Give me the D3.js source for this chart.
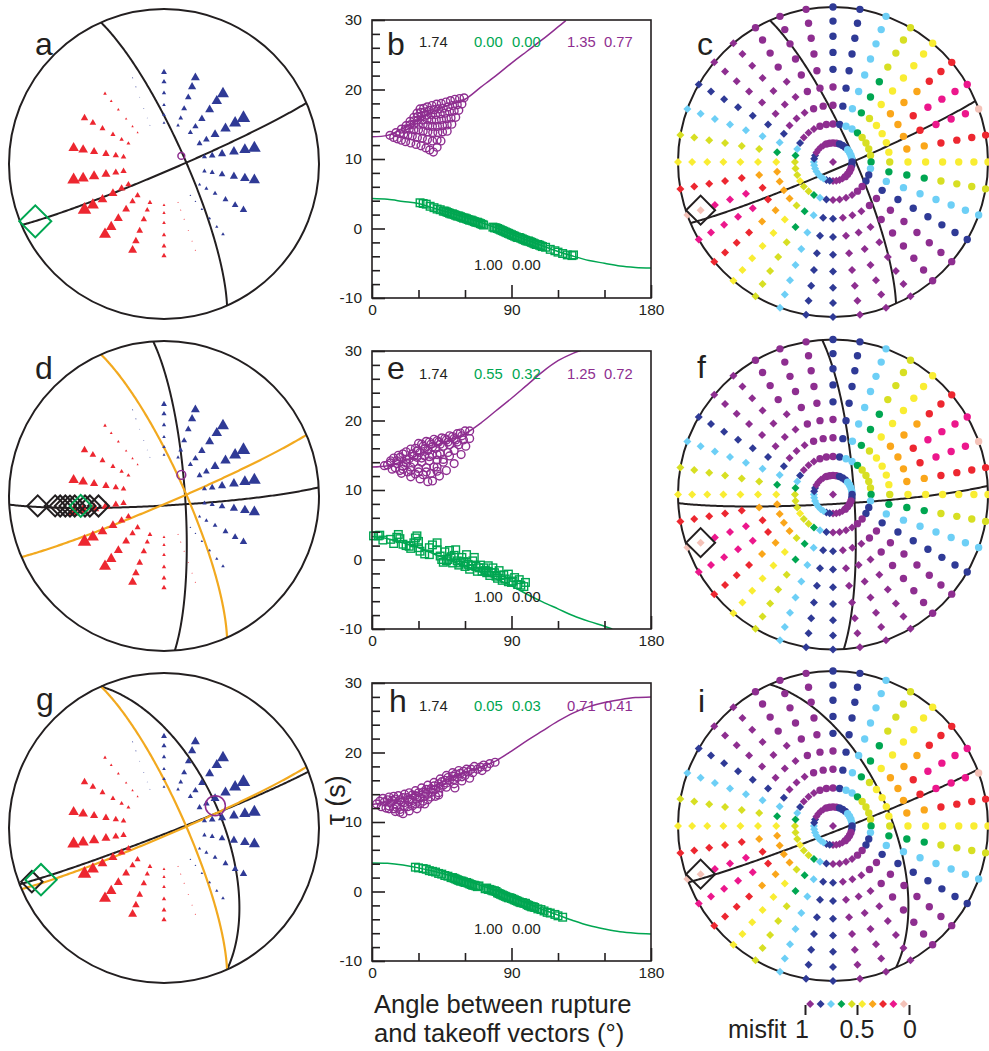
<!DOCTYPE html>
<html>
<head>
<meta charset="utf-8">
<script src="https://cdn.jsdelivr.net/npm/d3@7"></script>
<style>
  body { margin: 0; background: #fff; }
  text { font-family: "Liberation Sans", Arial, sans-serif; fill: #231f20; }
</style>
</head>
<body>
<script>
// station takeoff angles and azimuths (same for panels a, d, g)
const stationTakeoff = [49.5, 44, 37.8, 31.2, 25.8, 21.6];
const stationAz = [0, 20, 40, 60, 80, 100, 120, 140, 160, 180, 200, 220, 240, 260, 280, 300, 320, 340];
// signed amplitude per azimuth, outer ring first. + is blue, - is red
const stationAmp = [
  [14, 12, 10, 8, 8, 6],
  [22, 20, 16, 14, 11, 8],
  [30, 26, 22, 18, 15, 12],
  [34, 30, 26, 22, 16, 14],
  [32, 28, 24, 20, 16, 12],
  [28, 24, 20, 16, 12, 10],
  [18, 16, 14, 11, 9, 7],
  [8, 7, 6, 5, 3, 3],
  [-2, -2, -2, -2, -2, -2],
  [-12, -11, -10, -8, -7, -6],
  [-22, -18, -16, -15, -12, -11],
  [-30, -26, -22, -19, -15, -14],
  [-34, -30, -24, -22, -18, -15],
  [-32, -28, -26, -22, -17, -15],
  [-26, -24, -20, -18, -15, -13],
  [-18, -16, -14, -12, -10, -9],
  [-8, -6, -6, -5, -5, -4],
  [2, 2, 1, 1, 1, 1]
];

// fault planes as [dip direction, dip]
const planesTrue = [[66, 79], [156.8, 86]];
const planesD = [[86, 79], [176.8, 85]];
const planesG = [[66, 60], [158.7, 87]];

// rupture vectors as [azimuth, takeoff]
const ruptureD = [[265.5, 70.6], [264.8, 59.8], [264.5, 56.8], [264.2, 53.8], [263.9, 51.1], [263.6, 48.4], [262.8, 42.6], [262.3, 39.9], [261.3, 35.2]];
const ruptureGreenA = [246, 80];
const ruptureGreenD = [263.2, 45];
const ruptureGreenG = [247.2, 75];
const ruptureBlackG = [247.9, 81.2];
const purpleA = [65, 10];
const purpleD = [39.5, 14.3];
const purpleG = [66.5, 29.6];
const bestRupture = [250, 80];

// misfit class per grid node (0 = misfit 1 ... 9 = misfit 0), one string per ring, azimuth 0 to 350
const gridTakeoff = [90, 80, 70, 60, 50, 40, 30, 20, 10];
const gridClasses = [
  "112457897542100000112457897542100000",
  "112457887542100000112457897542100000",
  "112457887542100000112457887542100000",
  "112456887542100000112457887542100000",
  "112356776532100000112456887542100000",
  "012356666532100000112356776542100000",
  "012345555432100000112346666532100000",
  "012234444321100000012344544432100000",
  "001112222110000000011222222211000000"
];
const misfitColors = ["#8e2e90", "#2f3a96", "#6dcff6", "#00a651", "#d7df23", "#f9ed32", "#faa61a", "#ed2730", "#ec178c", "#f4c2b8"];

// tau curves, [angle, tau]
const curvePurpleB = [[0, 13.2], [10, 13.4], [20, 14.4], [30, 15.7], [40, 16.9], [50, 17.8], [60, 18.6], [70, 20.3], [80, 22], [90, 23.8], [100, 25.5], [110, 27.2], [120, 29], [125, 29.9]];
const curveGreenB = [[0, 4.3], [10, 4.2], [20, 3.9], [30, 3.6], [40, 2.9], [50, 2.3], [60, 1.6], [70, 0.9], [80, 0.1], [90, -0.8], [100, -1.7], [110, -2.5], [120, -3.3], [130, -4], [140, -4.6], [150, -5], [160, -5.4], [170, -5.6], [180, -5.7]];
const curvePurpleE = [[0, 13.3], [10, 13.5], [20, 14.1], [30, 15.1], [40, 16.2], [50, 17.2], [60, 18.1], [70, 19.6], [80, 21.4], [90, 23.2], [100, 25.1], [110, 27], [120, 28.6], [130, 29.7], [135, 30.1]];
const curveGreenE = [[0, 3.3], [10, 3], [20, 2.4], [30, 1.7], [40, 0.8], [50, -0.1], [60, -0.9], [70, -1.8], [80, -2.8], [90, -3.8], [100, -5], [110, -6.1], [120, -7.1], [130, -8.1], [140, -8.9], [150, -9.6], [155, -10]];
const curvePurpleH = [[0, 12.5], [10, 12.9], [20, 13.5], [30, 14.3], [40, 15.2], [50, 16.2], [60, 17.1], [70, 17.9], [80, 18.8], [90, 20.2], [100, 21.7], [110, 23.1], [120, 24.5], [130, 25.7], [140, 26.6], [150, 27.2], [160, 27.6], [170, 27.9], [180, 28]];
const curveGreenH = [[0, 4.1], [10, 4.05], [20, 3.8], [30, 3.4], [40, 2.9], [50, 2.3], [60, 1.6], [70, 0.9], [80, 0.1], [90, -0.8], [100, -1.7], [110, -2.6], [120, -3.4], [130, -4.2], [140, -4.9], [150, -5.4], [160, -5.8], [170, -6], [180, -6.1]];

// tau measurements, [angle, tau]
const circlesB = [
  [59.4, 18.8], [58, 17.9], [56, 17], [54, 16], [51.5, 15], [48.5, 14], [44.5, 12.6], [42, 11.7], [39.6, 11],
  [56.5, 18.7], [55, 17.8], [53, 16.9], [51, 15.9], [48.5, 14.9], [45.5, 13.9], [42, 12.7], [37.2, 11.3],
  [53.5, 18.6], [52, 17.7], [50, 16.8], [48, 15.8], [45.5, 14.8], [42.5, 13.8], [39, 12.6], [34.8, 11.6],
  [50.6, 18.4], [49, 17.5], [47, 16.6], [44.8, 15.7], [42.2, 14.7], [39.2, 13.8], [35.8, 12.8], [31.6, 11.9],
  [47.7, 18.2], [46, 17.3], [44, 16.5], [41.5, 15.6], [39, 14.7], [36, 13.9], [32.5, 13], [28.4, 12.1],
  [44.7, 18], [43, 17.2], [41, 16.4], [38.5, 15.6], [36, 14.8], [33, 14], [29.3, 13.1], [25, 12.3],
  [41.7, 17.9], [40, 17.1], [38, 16.4], [35.5, 15.7], [33, 15], [30, 14.2], [26, 13.3], [21.7, 12.5],
  [38.7, 17.7], [37, 17], [35, 16.3], [32.5, 15.6], [30, 15], [27, 14.2], [23.2, 13.4], [19, 12.7],
  [35.7, 17.5], [34, 16.8], [32, 16.2], [29.5, 15.6], [27, 15], [24, 14.3], [20.5, 13.6], [16.3, 12.9],
  [33.3, 17.3], [31.5, 16.7], [29.5, 16.1], [27, 15.5], [24.5, 14.9], [21.5, 14.3], [18, 13.7], [14, 13.1],
  [31, 17.2], [29, 16.6], [27, 16], [24.5, 15.4], [22, 14.8], [19, 14.3], [15.5, 13.8], [11.6, 13.4]
];
const squaresB = [
  [31, 3.7], [33, 3.6], [35, 3.5], [37.5, 3.2], [40, 3], [42, 2.8], [44, 2.7], [46, 2.5], [48, 2.4], [50, 2.2], [52, 2.1], [54, 1.9],
  [56, 1.8], [58, 1.6], [60, 1.5], [62, 1.3], [64, 1.2], [66, 1], [68, 0.9], [70, 0.7], [72, 0.5], [78, 0.2], [80, 0.1], [82, -0.1],
  [84, -0.3], [86, -0.5], [88, -0.7], [90, -0.9], [92, -1.1], [94, -1.3], [96, -1.4], [98, -1.6], [100, -1.8], [102, -1.9], [104, -2.1],
  [106, -2.3], [108, -2.4], [110, -2.6], [112, -2.7], [115, -3], [118, -3.2], [120, -3.4], [123, -3.6], [126, -3.8], [129, -3.9], [130, -3.8],
  [47, 2.5], [49, 2.3], [51, 2.1], [53, 2], [55, 1.8], [57, 1.7], [59, 1.5], [61, 1.4], [63, 1.2], [65, 1.1], [67, 0.9], [69, 0.8], [71, 0.6],
  [79, 0.1], [81, 0], [83, -0.2], [85, -0.4], [87, -0.6], [89, -0.8], [91, -1], [93, -1.2], [95, -1.3], [97, -1.5], [99, -1.7], [101, -1.8], [103, -2], [105, -2.2], [107, -2.3], [109, -2.5]
];
const circlesE = [
  [30, 16.7], [35, 17], [40, 17.3], [45, 17.5], [50, 17.8], [55, 18.1], [60, 18.5], [63, 18.5],
  [63, 17.4], [60.5, 16.3], [57.5, 15.1], [53, 13.8], [48, 12.8], [43.5, 12], [39, 11.3],
  [28, 16], [33, 16.3], [38, 16.6], [43, 16.9], [48, 17.2], [53, 17.4], [58, 17.8],
  [26, 15.2], [31, 15.4], [36, 15.7], [41, 16], [46, 16.3], [50, 16.5], [55, 16.9], [59, 17.2],
  [20, 15.2], [24, 14.5], [29, 14.7], [34, 14.9], [39, 15], [44, 15.2], [49, 15.4],
  [14, 14.6], [18, 14.7], [22, 13.9], [27, 14], [32, 14], [37, 14.2], [42, 14.3], [46, 14.4],
  [8, 13.5], [12, 13.9], [16, 13.8], [20, 13.4], [25, 13.3], [30, 13.1], [35, 13.2], [40, 13.3],
  [13, 13], [18, 12.8], [23, 12.6], [28, 12.3], [33, 12.2], [38, 12.4], [42, 12.7],
  [19, 12.4], [25, 11.9], [31, 11.6], [36, 11.2],
  [32, 16.6], [37, 16.9], [42, 17.1], [47, 17.4], [52, 17.7], [57, 18.2], [29, 15.6], [34, 15.9], [39, 16.2], [44, 16.6], [49, 16.9], [54, 17.2],
  [12, 14.2], [17, 15], [22, 15.5], [25, 15.9], [27, 14.9], [32, 14.6], [37, 14.8], [42, 15.1], [22, 14.4], [16, 14.2], [10, 13.6],
  [15, 13.2], [20, 13], [25, 12.8], [30, 12.6], [35, 12.6], [56, 16.5], [53, 15.7], [50, 14.9], [46, 14], [42, 13.3]
];
const squaresE = [
  [1, 3.4], [4, 3.4], [5, 3.5], [7, 2.8], [12, 2.9], [14, 2.3], [16, 3.2], [17, 3.6], [18, 3], [20, 2.2], [22, 2], [24, 1.9], [25, 1.6],
  [27, 2.4], [28, 3.1], [29, 3.4], [30, 2.6], [30, 1.7], [31, 1.2], [34, 0.8], [37, 0.7], [37, 1.7], [39, 2.1], [42, 2.4], [42, 1.4],
  [44, 0.5], [45, 0], [47, 1.1], [48, -0.2], [50, 1.3], [52, -0.5], [53, 0.6], [54, 1.4], [56, -0.8], [58, 0.3], [60, -1], [61, 0.7],
  [63, -1.4], [65, -0.2], [66, 0.3], [68, -1.7], [70, -0.8], [71, -1.7], [74, -1.9], [75, -0.9], [76, -2.3], [78, -1.2], [80, -2.4],
  [81, -2.7], [82, -1.6], [84, -3], [85, -2.2], [88, -3.2], [88, -2.1], [90, -3.3], [92, -2.6], [94, -3.6], [95, -2.9], [98, -3.9], [99, -3.3], [96, -3.7],
  [46, -0.4], [49, 0], [51, 0.4], [55, -0.2], [57, -0.5], [59, -0.3], [62, -0.7], [64, -0.9], [67, -1], [69, -1.2], [72, -1.2], [73, -1.6],
  [75, -1.7], [77, -1.9], [79, -1.9], [83, -2.3], [86, -2.8], [91, -3.1]
];
const circlesH = [
  [3, 12.6], [7, 13.4], [11, 13.6], [14, 13.7], [17, 13.8], [21, 14], [24, 14.2], [28, 14.5], [32, 14.9], [36, 15.3], [40, 15.7], [44, 16.2],
  [48, 16.7], [52, 17.1], [56, 17.4], [61, 17.6], [66, 18], [72, 18.2], [76, 18.4], [79.4, 18.6],
  [8, 12.9], [13, 13.1], [18, 13.2], [23, 13.5], [28, 13.8], [33, 14.3], [38, 14.8], [43, 15.5], [47, 16], [52, 16.6], [57, 17], [62, 17.2], [68, 17.6], [74, 17.9],
  [6, 12.2], [11, 12.3], [16, 12.5], [21, 12.8], [26, 13.1], [31, 13.5], [36, 14], [41, 14.7], [46, 15.3], [50, 16], [55, 16.4], [60, 16.7], [65, 17.1], [71, 17.4],
  [9, 12], [14, 11.9], [18, 11.8], [23, 12.2], [28, 12.6], [33, 13], [38, 13.6], [43, 14.2], [48, 15], [53, 15.5], [58, 15.9], [63, 16.3],
  [15, 11.5], [18, 11.4], [20, 11.2], [24, 11.6], [29, 11.9], [34, 12.6], [43, 13.9], [53.5, 14.9],
  [5, 13], [10, 13.2], [15, 13.3], [20, 13.5], [26, 13.9], [30, 14.2], [35, 14.7], [40, 15.2], [45, 15.8], [49, 16.4], [54, 16.9], [59, 17.3], [64, 17.6], [70, 17.9],
  [12, 12.7], [19, 12.9], [24, 12.9], [29, 13.3], [34, 13.7], [39, 14.3], [44, 14.9], [48, 15.6], [53, 16.1], [58, 16.5],
  [11, 11.9], [16, 12.1], [21, 12.2], [26, 12.3], [31, 12.6], [36, 13.2], [41, 13.7]
];
const squaresH = [
  [28, 3.5], [30, 3.4], [33, 3.3], [35, 3.2], [37, 3], [39, 2.9], [41, 2.8], [43, 2.6], [45, 2.5], [47, 2.3], [49, 2.2], [51, 2], [53, 1.9],
  [55, 1.7], [57, 1.5], [59, 1.4], [61, 1.3], [63, 1.1], [65, 0.9], [67, 0.8], [69, 0.8], [73, 0.4], [75, 0.3], [77, 0.2], [79, 0.1], [81, -0.2],
  [83, -0.4], [85, -0.6], [87, -0.8], [89, -0.9], [91, -1.1], [93, -1.3], [95, -1.5], [97, -1.6], [99, -1.7], [101, -2], [103, -2.2], [105, -2.3],
  [107, -2.5], [109, -2.6], [111, -2.8], [113, -3], [115, -3.1], [118, -3.3], [120, -3.5], [123, -3.7],
  [52, 2], [54, 1.8], [56, 1.6], [58, 1.5], [60, 1.3], [62, 1.2], [64, 1], [66, 0.9], [68, 0.7], [74, 0.5], [76, 0.3], [78, 0.1], [80, 0],
  [82, -0.3], [84, -0.5], [86, -0.7], [88, -0.9], [90, -1], [92, -1.2], [94, -1.4], [96, -1.6], [98, -1.7], [100, -1.9], [102, -2.1], [104, -2.2]
];

// numbers printed inside the middle panels
const labelsB = ["0.00", "0.00", "1.35", "0.77"];
const labelsE = ["0.55", "0.32", "1.25", "0.72"];
const labelsH = ["0.05", "0.03", "0.71", "0.41"];

const xTicks = [0, 90, 180];
const xMinorTicks = [30, 60, 120, 150];
const yTicks = [-10, 0, 10, 20, 30];
const yMinorTicks = [-8, -6, -4, -2, 2, 4, 6, 8, 12, 14, 16, 18, 22, 24, 26, 28];
const legendTicks = [1, 0.5, 0];
const legendValues = [0.95, 0.85, 0.75, 0.65, 0.55, 0.45, 0.35, 0.25, 0.15, 0.05];

const width = 989;
const height = 1051;
const radius = 155;
const black = "#231f20";
const green = "#00a651";
const purple = "#8e2e90";
const orange = "#f2a91f";

const svg = d3.select("body").append("svg")
  .attr("width", width)
  .attr("height", height)
  .style("display", "block");

function square(halfDiagonal) {
  return d3.symbol().type(d3.symbolSquare).size(2 * halfDiagonal * halfDiagonal)();
}

// lower hemisphere equal area net, azimuth clockwise from north
function makeNet(cx, cy) {
  const projection = d3.geoAzimuthalEqualArea()
    .rotate([0, 90])
    .scale(radius / Math.SQRT2)
    .translate([cx, cy])
    .clipAngle(90)
    .precision(0.2);
  return {
    cx: cx,
    cy: cy,
    at: d => projection([d[0], d[1] - 90]),
    path: d3.geoPath(projection)
  };
}

function drawCircle(net) {
  svg.append("circle")
    .attr("cx", net.cx).attr("cy", net.cy).attr("r", radius)
    .attr("fill", "none").attr("stroke", black).attr("stroke-width", 2);
}

function drawPlanes(net, planes, color, w) {
  planes.forEach(p => {
    const circle = d3.geoCircle().center([p[0] + 180, p[1] - 90]).radius(90).precision(1)();
    svg.append("path")
      .attr("d", net.path({ type: "LineString", coordinates: circle.coordinates[0] }))
      .attr("fill", "none").attr("stroke", color).attr("stroke-width", w);
  });
}

function drawStations(net) {
  const size = d3.scaleLinear().domain([0, 34]).range([0.6, 13.5]);
  stationAz.forEach((az, i) => {
    stationTakeoff.forEach((t, j) => {
      const amp = stationAmp[i][j];
      const pt = net.at([az, t]);
      const w = size(Math.abs(amp));
      svg.append("path")
        .attr("d", d3.symbol().type(d3.symbolTriangle).size(0.433 * w * w)())
        .attr("transform", "translate(" + pt[0] + "," + pt[1] + ")")
        .attr("fill", amp > 0 ? "#2f3a96" : "#ed2730");
    });
  });
}

function drawDiamond(net, d, half, color) {
  const pt = net.at(d);
  svg.append("path")
    .attr("d", square(half))
    .attr("transform", "translate(" + pt[0] + "," + pt[1] + ") rotate(45)")
    .attr("fill", "none").attr("stroke", color).attr("stroke-width", 2);
}

function drawPurple(net, d, r) {
  const pt = net.at(d);
  svg.append("circle")
    .attr("cx", pt[0]).attr("cy", pt[1]).attr("r", r)
    .attr("fill", "none").attr("stroke", purple).attr("stroke-width", 1.5);
}

// circles on one side of the auxiliary plane, diamonds on the other
function isCircleNode(az, takeoff) {
  if (az <= 140 || az >= 340) return true;
  return az === 330 && takeoff >= 60;
}

function drawGrid(net) {
  gridTakeoff.forEach((t, i) => {
    d3.range(36).forEach(k => {
      const az = k * 10;
      const pt = net.at([az, t]);
      const color = misfitColors[+gridClasses[i][k]];
      if (isCircleNode(az, t)) {
        svg.append("circle").attr("cx", pt[0]).attr("cy", pt[1]).attr("r", 3.7).attr("fill", color);
      } else {
        svg.append("path").attr("d", square(4))
          .attr("transform", "translate(" + pt[0] + "," + pt[1] + ") rotate(45)")
          .attr("fill", color);
      }
    });
  });
  svg.append("path").attr("d", square(4))
    .attr("transform", "translate(" + net.cx + "," + net.cy + ") rotate(45)")
    .attr("fill", misfitColors[0]);
}

function drawTauPanel(top, curves, squares, circles, labels, letter, letterX, letterY, labelY, bottomLabelY) {
  const bottom = top + 278;
  const x = d3.scaleLinear().domain([0, 180]).range([372, 651]);
  const y = d3.scaleLinear().domain([-10, 30]).range([bottom, top]);
  const g = svg.append("g");

  const clipId = "clip" + letter;
  g.append("clipPath").attr("id", clipId).append("rect")
    .attr("x", 372).attr("y", top).attr("width", 279).attr("height", 278);

  const line = d3.line().x(d => x(d[0])).y(d => y(d[1])).curve(d3.curveCatmullRom);
  g.append("path").datum(curves[0]).attr("d", line)
    .attr("clip-path", "url(#" + clipId + ")")
    .attr("fill", "none").attr("stroke", purple).attr("stroke-width", 1.5);
  g.append("path").datum(curves[1]).attr("d", line)
    .attr("clip-path", "url(#" + clipId + ")")
    .attr("fill", "none").attr("stroke", green).attr("stroke-width", 1.5);

  g.selectAll(".sq").data(squares).enter().append("rect")
    .attr("x", d => x(d[0]) - 3.8).attr("y", d => y(d[1]) - 3.8)
    .attr("width", 7.6).attr("height", 7.6)
    .attr("fill", "none").attr("stroke", green).attr("stroke-width", 1.4);
  g.selectAll(".ci").data(circles).enter().append("circle")
    .attr("cx", d => x(d[0])).attr("cy", d => y(d[1])).attr("r", 3.9)
    .attr("fill", "none").attr("stroke", purple).attr("stroke-width", 1.4);

  g.append("rect").attr("x", 372).attr("y", top).attr("width", 279).attr("height", 278)
    .attr("fill", "none").attr("stroke", black).attr("stroke-width", 1.6);

  // ticks point inward
  const xAxis = g.append("g").attr("transform", "translate(0," + bottom + ")")
    .call(d3.axisBottom(x).tickValues(xTicks).tickSize(-13).tickPadding(6).tickFormat(d3.format("d")));
  const xMinor = g.append("g").attr("transform", "translate(0," + bottom + ")")
    .call(d3.axisBottom(x).tickValues(xMinorTicks).tickSize(-8).tickFormat(""));
  const yAxis = g.append("g").attr("transform", "translate(372,0)")
    .call(d3.axisLeft(y).tickValues(yTicks).tickSize(-13).tickPadding(10).tickFormat(d => d < 0 ? "-" + Math.abs(d) : d));
  const yMinor = g.append("g").attr("transform", "translate(372,0)")
    .call(d3.axisLeft(y).tickValues(yMinorTicks).tickSize(-8).tickFormat(""));
  [xAxis, xMinor, yAxis, yMinor].forEach(a => {
    a.select(".domain").remove();
    a.selectAll("line").attr("stroke", black).attr("stroke-width", 1.6);
    a.selectAll("text").attr("font-size", 15.5).style("font-family", "Liberation Sans").attr("fill", black);
  });

  g.append("text").attr("x", letterX).attr("y", letterY).attr("font-size", 32).text(letter);

  const small = (tx, ty, s, color) => g.append("text").attr("x", tx).attr("y", ty)
    .attr("font-size", 14.8).style("fill", color).text(s);
  small(419, labelY, "1.74", black);
  small(474, labelY, labels[0], green);
  small(512, labelY, labels[1], green);
  small(567, labelY, labels[2], purple);
  small(604, labelY, labels[3], purple);
  small(474, bottomLabelY, "1.00", black);
  small(512, bottomLabelY, "0.00", black);
}

function letterAt(x, y, s) {
  svg.append("text").attr("x", x).attr("y", y).attr("font-size", 32).text(s);
}

// panel a
const netA = makeNet(164, 164);
drawPlanes(netA, planesTrue, black, 2);
drawStations(netA);
drawCircle(netA);
drawDiamond(netA, ruptureGreenA, 16, green);
drawPurple(netA, purpleA, 3.4);
letterAt(35, 55, "a");

// panel d
const netD = makeNet(164, 496);
drawPlanes(netD, planesD, black, 2);
drawPlanes(netD, planesTrue, orange, 2.2);
drawStations(netD);
drawCircle(netD);
ruptureD.forEach(d => drawDiamond(netD, d, 10.5, black));
drawDiamond(netD, ruptureGreenD, 11, green);
drawPurple(netD, purpleD, 4.4);
letterAt(35, 379, "d");

// panel g
const netG = makeNet(164, 828);
drawPlanes(netG, planesG, black, 2);
drawPlanes(netG, planesTrue, orange, 2.2);
drawStations(netG);
drawCircle(netG);
drawDiamond(netG, ruptureBlackG, 10.7, black);
drawDiamond(netG, ruptureGreenG, 15.7, green);
drawPurple(netG, purpleG, 10);
letterAt(36, 710, "g");

// panels b, e, h
drawTauPanel(20, [curvePurpleB, curveGreenB], squaresB, circlesB, labelsB, "b", 387, 55, 47, 270);
drawTauPanel(351, [curvePurpleE, curveGreenE], squaresE, circlesE, labelsE, "e", 387, 379, 379, 602);
drawTauPanel(683, [curvePurpleH, curveGreenH], squaresH, circlesH, labelsH, "h", 389, 712, 711, 934);

// panels c, f, i
[[162, planesTrue, "c", 697, 55], [494.5, planesD, "f", 697, 378], [826, planesG, "i", 698, 712]].forEach(p => {
  const net = makeNet(833, p[0]);
  drawPlanes(net, p[1], black, 2);
  drawCircle(net);
  drawGrid(net);
  drawDiamond(net, bestRupture, 14.5, black);
  letterAt(p[3], p[4], p[2]);
});

// axis titles
svg.append("text").attr("x", 374).attr("y", 1013).attr("font-size", 25.6).text("Angle between rupture");
svg.append("text").attr("x", 374).attr("y", 1042).attr("font-size", 25.6).text("and takeoff vectors (°)");
svg.append("text").attr("transform", "translate(345,825) rotate(-90)").attr("font-size", 27).text("τ (s)");

// misfit legend
const legendX = d3.scaleLinear().domain([1, 0]).range([805, 909]);
svg.selectAll(".legend").data(legendValues).enter().append("path")
  .attr("d", square(4))
  .attr("transform", d => "translate(" + legendX(d) + ",1004) rotate(45)")
  .attr("fill", (d, i) => misfitColors[i]);
const legendAxis = svg.append("g").attr("transform", "translate(0,1015)")
  .call(d3.axisTop(legendX).tickValues(legendTicks).tickSize(10).tickFormat(""));
legendAxis.select(".domain").remove();
legendAxis.selectAll("line").attr("stroke", black).attr("stroke-width", 2);
svg.selectAll(".legendLabel").data(legendTicks).enter().append("text")
  .attr("x", d => legendX(d) + (d === 1 ? -3 : d === 0 ? 1 : 0))
  .attr("y", 1038).attr("font-size", 25).attr("text-anchor", "middle")
  .text(d => d);
svg.append("text").attr("x", 728).attr("y", 1038).attr("font-size", 25).text("misfit");
</script>
</body>
</html>
